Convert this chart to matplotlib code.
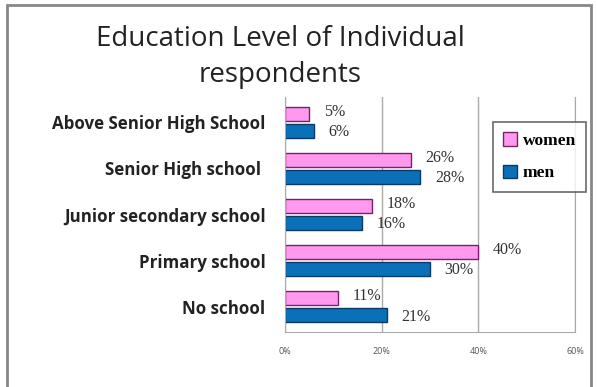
import matplotlib
matplotlib.use("Agg")
import matplotlib.pyplot as plt
from matplotlib.patches import Rectangle
import numpy as np

categories = ["Above Senior High School", "Senior High school ", "Junior secondary school",
              "Primary school", "No school"]
women = [5, 26, 18, 40, 11]
men = [6, 28, 16, 30, 21]
xticks = [0, 20, 40, 60]
xticklabels = ["0%", "20%", "40%", "60%"]

plt.rcParams['font.family'] = ['Open Sans', 'DejaVu Sans']

fig = plt.figure(figsize=(5.97, 3.87), dpi=100)
ax = fig.add_axes([285/597, 1-332/387, 290/597, 235/387])

n = len(categories)
y = np.arange(n)[::-1].astype(float)
h = 0.31
gap = 0.06
yw = y + h/2 + gap/2
ym = y - h/2 - gap/2

bw = ax.barh(yw, women, height=h, color="#FF99EE", edgecolor="#7A1F6A", linewidth=1.0, label="women")
bm = ax.barh(ym, men, height=h, color="#0A70B8", edgecolor="#0B3A66", linewidth=1.0, label="men")

lab_font = ["Liberation Serif", "DejaVu Serif"]
for yy, v in zip(yw, women):
    ax.text(v + 3.0, yy + 0.05, f"{v}%", va="center", ha="left", fontsize=11.5, color="#333333",
            family=lab_font)
for yy, v in zip(ym, men):
    ax.text(v + 3.0, yy - 0.03, f"{v}%", va="center", ha="left", fontsize=11.5, color="#333333",
            family=lab_font)

ax.set_xlim(0, 60)
ax.set_ylim(-0.55, n - 0.45)
ax.set_xticks(xticks)
ax.set_xticklabels(xticklabels, fontsize=6.5, color="#555555")
ax.set_yticks(y)
ax.set_yticklabels(categories, fontsize=12.2, color="#222222", fontweight="bold")
ax.tick_params(axis="x", length=0, pad=11)
ax.tick_params(axis="y", length=0, pad=14)
ax.xaxis.grid(True, color="#AAAAAA", linewidth=1.0)
ax.set_axisbelow(True)
ax.spines["top"].set_visible(False)
for s in ["left", "bottom", "right"]:
    ax.spines[s].set_color("#AAAAAA")

fig.text(280/597, 1-39/387, "Education Level of Individual", ha="center", va="center",
         fontsize=20, color="#222222")
fig.text(280/597, 1-75/387, "respondents", ha="center", va="center",
         fontsize=20, color="#222222")

leg = fig.legend(handles=[bw, bm], loc="upper left", bbox_to_anchor=(493/597, 1-122/387),
                 frameon=True, fancybox=False, handlelength=0.8, handleheight=0.8,
                 handletextpad=0.3, borderpad=0.6, labelspacing=0.9, borderaxespad=0,
                 prop={"family": lab_font, "size": 12.5, "weight": "bold"})
leg.get_frame().set_edgecolor("#444444")
leg.get_frame().set_linewidth(1.2)

fig.patches.append(Rectangle((7/597, -0.1), 584/597, 1.1-5/387, transform=fig.transFigure,
                             fill=False, edgecolor="#888888", linewidth=2))

fig.savefig("out.png", dpi=100)
